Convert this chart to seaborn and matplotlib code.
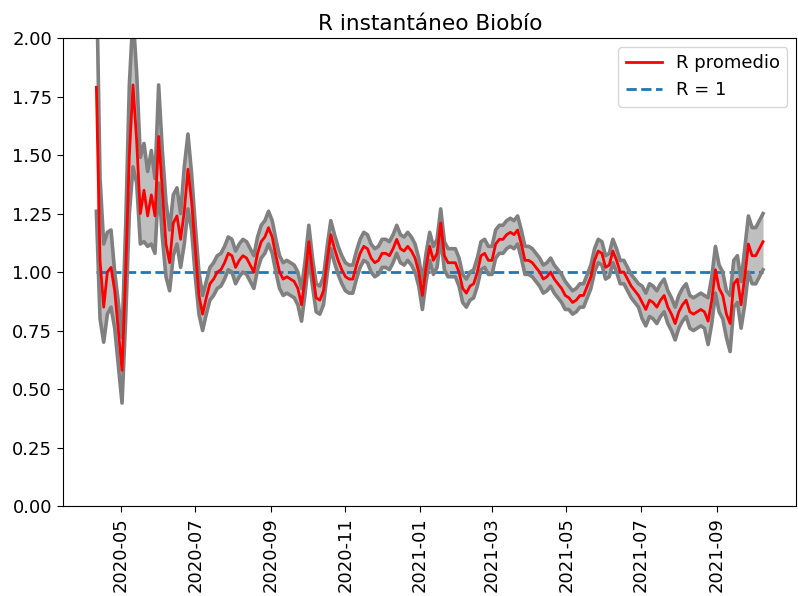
import pandas as pd
import matplotlib.pyplot as plt
import matplotlib.dates as mdates
import seaborn as sns

# Valores (cada 3 dias desde 2020-04-11)
fecha_inicio = "2020-04-11"
paso_dias = 3

r_promedio = [
    1.79, 1.05, 0.85, 1.00, 1.02, 0.92, 0.75, 0.58, 1.00, 1.50,
    1.80, 1.56, 1.25, 1.35, 1.24, 1.33, 1.24, 1.58, 1.35, 1.12,
    1.04, 1.21, 1.24, 1.14, 1.26, 1.44, 1.30, 1.10, 0.90, 0.82,
    0.89, 0.95, 0.97, 1.00, 1.01, 1.04, 1.08, 1.07, 1.02, 1.05,
    1.07, 1.06, 1.03, 1.00, 1.08, 1.13, 1.15, 1.19, 1.15, 1.07,
    1.00, 0.97, 0.98, 0.97, 0.96, 0.93, 0.86, 0.98, 1.13, 1.00,
    0.89, 0.88, 0.92, 1.05, 1.16, 1.10, 1.05, 1.01, 0.98, 0.97,
    0.97, 1.03, 1.08, 1.11, 1.10, 1.06, 1.04, 1.05, 1.08, 1.08,
    1.07, 1.10, 1.14, 1.10, 1.09, 1.11, 1.09, 1.06, 1.00, 0.90,
    1.02, 1.11, 1.05, 1.08, 1.21, 1.07, 1.04, 1.04, 1.04, 1.00,
    0.93, 0.91, 0.94, 0.95, 1.00, 1.07, 1.08, 1.05, 1.05, 1.12,
    1.14, 1.14, 1.16, 1.17, 1.16, 1.18, 1.12, 1.05, 1.05, 1.04,
    1.02, 1.00, 0.97, 0.98, 1.00, 0.97, 0.95, 0.93, 0.90, 0.89,
    0.87, 0.88, 0.90, 0.90, 0.94, 0.98, 1.05, 1.09, 1.08, 1.02,
    1.03, 1.09, 1.05, 1.00, 1.00, 0.97, 0.94, 0.92, 0.90, 0.87,
    0.84, 0.88, 0.87, 0.85, 0.88, 0.90, 0.85, 0.82, 0.78, 0.83,
    0.86, 0.88, 0.83, 0.82, 0.83, 0.84, 0.83, 0.79, 0.88, 1.01,
    0.93, 0.90, 0.82, 0.78, 0.95, 0.97, 0.86, 0.98, 1.12, 1.07,
    1.07, 1.10, 1.13,
]

r_inferior = [
    1.26, 0.80, 0.70, 0.82, 0.85, 0.76, 0.60, 0.44, 0.80, 1.25,
    1.45, 1.38, 1.12, 1.13, 1.11, 1.12, 1.08, 1.38, 1.15, 0.98,
    0.92, 1.07, 1.12, 1.02, 1.12, 1.27, 1.18, 0.98, 0.82, 0.75,
    0.82, 0.88, 0.90, 0.93, 0.94, 0.97, 1.01, 1.00, 0.95, 0.98,
    1.00, 0.99, 0.96, 0.93, 1.01, 1.06, 1.08, 1.12, 1.08, 1.00,
    0.93, 0.90, 0.91, 0.90, 0.89, 0.86, 0.79, 0.91, 1.06, 0.94,
    0.83, 0.82, 0.86, 0.99, 1.10, 1.04, 0.99, 0.95, 0.92, 0.91,
    0.91, 0.97, 1.02, 1.05, 1.04, 1.00, 0.98, 0.99, 1.02, 1.02,
    1.01, 1.04, 1.08, 1.04, 1.03, 1.05, 1.03, 1.00, 0.94, 0.84,
    0.96, 1.05, 0.99, 1.02, 1.15, 1.01, 0.98, 0.98, 0.98, 0.94,
    0.87, 0.85, 0.88, 0.89, 0.94, 1.01, 1.02, 0.99, 0.99, 1.06,
    1.08, 1.08, 1.10, 1.11, 1.10, 1.12, 1.06, 0.99, 0.99, 0.98,
    0.96, 0.94, 0.91, 0.92, 0.94, 0.91, 0.89, 0.87, 0.84, 0.84,
    0.82, 0.83, 0.85, 0.85, 0.89, 0.93, 1.00, 1.04, 1.03, 0.97,
    0.98, 1.04, 1.00, 0.95, 0.95, 0.92, 0.89, 0.87, 0.85, 0.80,
    0.77, 0.81, 0.80, 0.78, 0.81, 0.83, 0.78, 0.75, 0.71, 0.76,
    0.79, 0.81, 0.76, 0.75, 0.76, 0.77, 0.76, 0.69, 0.78, 0.91,
    0.83, 0.80, 0.72, 0.66, 0.85, 0.87, 0.76, 0.86, 1.00, 0.95,
    0.95, 0.98, 1.01,
]

r_superior = [
    2.30, 1.40, 1.12, 1.17, 1.18, 1.00, 0.87, 0.72, 1.20, 1.80,
    2.10, 1.85, 1.49, 1.55, 1.43, 1.52, 1.40, 1.80, 1.52, 1.30,
    1.18, 1.33, 1.36, 1.25, 1.45, 1.59, 1.42, 1.20, 1.00, 0.90,
    0.96, 1.02, 1.04, 1.07, 1.08, 1.11, 1.15, 1.14, 1.09, 1.12,
    1.14, 1.13, 1.10, 1.07, 1.15, 1.20, 1.22, 1.26, 1.22, 1.14,
    1.07, 1.04, 1.05, 1.04, 1.03, 1.00, 0.93, 1.05, 1.20, 1.06,
    0.95, 0.94, 0.98, 1.11, 1.22, 1.16, 1.11, 1.07, 1.04, 1.03,
    1.03, 1.09, 1.14, 1.17, 1.16, 1.12, 1.10, 1.11, 1.14, 1.14,
    1.13, 1.16, 1.20, 1.16, 1.15, 1.17, 1.15, 1.12, 1.06, 0.96,
    1.08, 1.17, 1.11, 1.14, 1.27, 1.13, 1.10, 1.10, 1.10, 1.06,
    0.99, 0.97, 1.00, 1.01, 1.06, 1.13, 1.14, 1.11, 1.11, 1.18,
    1.20, 1.20, 1.22, 1.23, 1.22, 1.24, 1.18, 1.11, 1.11, 1.10,
    1.08, 1.06, 1.03, 1.04, 1.06, 1.03, 1.01, 0.99, 0.96, 0.94,
    0.92, 0.93, 0.95, 0.95, 0.99, 1.03, 1.10, 1.14, 1.13, 1.07,
    1.08, 1.14, 1.10, 1.05, 1.05, 1.02, 0.99, 0.97, 0.95, 0.94,
    0.91, 0.95, 0.94, 0.92, 0.95, 0.97, 0.92, 0.89, 0.85, 0.90,
    0.93, 0.95, 0.90, 0.89, 0.90, 0.91, 0.90, 0.89, 0.98, 1.11,
    1.03, 1.00, 0.92, 0.90, 1.05, 1.07, 0.96, 1.10, 1.24, 1.19,
    1.19, 1.22, 1.25,
]

# meses con etiqueta en el eje x
meses_ticks = ["2020-05", "2020-07", "2020-09", "2020-11", "2021-01",
               "2021-03", "2021-05", "2021-07", "2021-09"]

fechas = pd.date_range(fecha_inicio, periods=len(r_promedio), freq=f"{paso_dias}D")
df = pd.DataFrame({"fecha": fechas, "r": r_promedio,
                   "r_inf": r_inferior, "r_sup": r_superior})

plt.rcParams["font.size"] = 13
plt.rcParams["xtick.major.size"] = 4.5
plt.rcParams["ytick.major.size"] = 4.5

fig, ax = plt.subplots(figsize=(7.98, 5.96), dpi=100)
fig.subplots_adjust(left=0.079, right=0.998, top=0.936, bottom=0.151)

# R = 1 (debajo de la banda)
sns.lineplot(x=[df["fecha"].iloc[0], df["fecha"].iloc[-1]], y=[1, 1],
             linestyle="--", color="tab:blue", linewidth=2, label="R = 1", ax=ax)

# banda de confianza
ax.fill_between(df["fecha"], df["r_inf"], df["r_sup"], color="gray", alpha=0.5, linewidth=0)
sns.lineplot(data=df, x="fecha", y="r_inf", color="gray", linewidth=2.6, ax=ax)
sns.lineplot(data=df, x="fecha", y="r_sup", color="gray", linewidth=2.6, ax=ax)

# R promedio
sns.lineplot(data=df, x="fecha", y="r", color="red", linewidth=2, label="R promedio", ax=ax)

ax.set_ylim(0, 2)
ax.set_title("R instantáneo Biobío")
ax.set_xlabel("")
ax.set_ylabel("")
ax.set_xticks(pd.to_datetime(meses_ticks))
ax.xaxis.set_major_formatter(mdates.DateFormatter("%Y-%m"))
plt.setp(ax.get_xticklabels(), rotation=90)

handles, labels = ax.get_legend_handles_labels()
ax.legend(handles[::-1], labels[::-1], loc="upper right")

plt.savefig("out.png", dpi=100)
